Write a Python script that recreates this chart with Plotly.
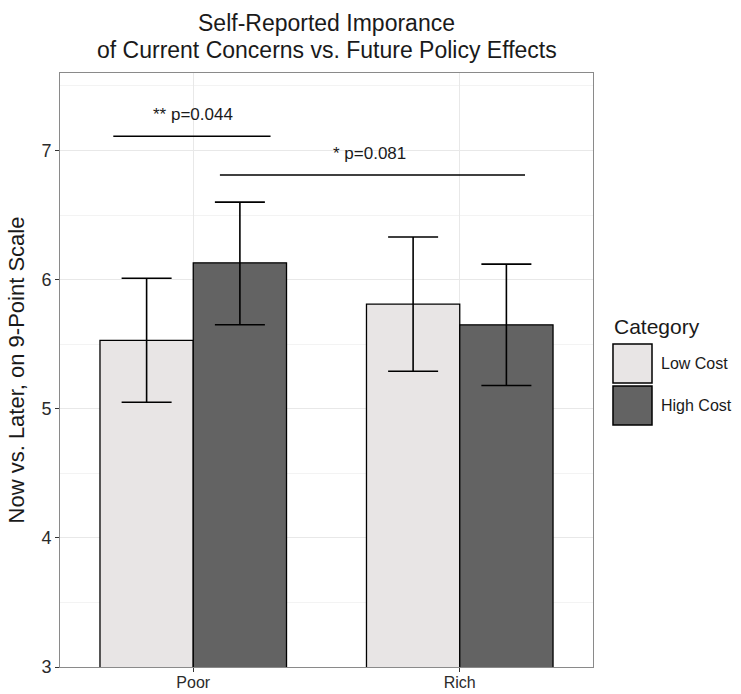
import plotly.graph_objects as go

# ---- data ----
categories = ["Poor", "Rich"]
series_names = ["Low Cost", "High Cost"]
low_cost_mean = [5.53, 5.81]
low_cost_upper = [6.01, 6.33]
low_cost_lower = [5.05, 5.29]
high_cost_mean = [6.13, 5.65]
high_cost_upper = [6.60, 6.12]
high_cost_lower = [5.65, 5.18]

sig_labels = ["** p=0.044", "* p=0.081"]
sig_x0 = [-0.30, 0.10]
sig_x1 = [0.29, 1.245]
sig_line_y = [7.11, 6.81]
sig_label_x = [0.0, 0.66]
sig_label_y = [7.28, 6.98]

y_ticks = [3, 4, 5, 6, 7]
y_range = [3, 7.6]

title_lines = ["Self-Reported Imporance", "of Current Concerns vs. Future Policy Effects"]
y_title = "Now vs. Later, on 9-Point Scale"
legend_title = "Category"

colors = ["#e8e5e5", "#636363"]
FONT = "Liberation Sans, Arial, sans-serif"

fig = go.Figure()
means = [low_cost_mean, high_cost_mean]
uppers = [low_cost_upper, high_cost_upper]
lowers = [low_cost_lower, high_cost_lower]
for name, m, u, l, c in zip(series_names, means, uppers, lowers, colors):
    fig.add_trace(go.Bar(
        x=categories, y=m, name=name,
        marker=dict(color=c, line=dict(color="black", width=1.3)),
        error_y=dict(type="data", symmetric=False,
                     array=[a - b for a, b in zip(u, m)],
                     arrayminus=[b - a for a, b in zip(l, m)],
                     color="black", thickness=1.6, width=25),
        showlegend=False,
    ))

shapes = []
annotations = []
for lab, x0, x1, ly, tx, ty in zip(sig_labels, sig_x0, sig_x1, sig_line_y, sig_label_x, sig_label_y):
    shapes.append(dict(type="line", xref="x", yref="y", x0=x0, x1=x1, y0=ly, y1=ly,
                       line=dict(color="black", width=1.6)))
    annotations.append(dict(x=tx, y=ty, xref="x", yref="y", text=lab, showarrow=False,
                            font=dict(family=FONT, size=17, color="#1a1a1a"),
                            xanchor="center", yanchor="middle"))

# title lines (paper coords above plot)
for txt, ty in zip(title_lines, [1.0842, 1.0387]):
    annotations.append(dict(x=0.5, y=ty, xref="paper", yref="paper", text=txt, showarrow=False,
                            xanchor="center", yanchor="middle",
                            font=dict(family=FONT, size=23, color="#1a1a1a")))

# custom legend (paper coords)
key_x0, key_x1 = 1.0375, 1.1107
key_tops = [0.5438, 0.4731]
key_h = 0.0657
for name, c, top in zip(series_names, colors, key_tops):
    shapes.append(dict(type="rect", xref="paper", yref="paper", x0=key_x0, x1=key_x1,
                       y0=top - key_h, y1=top, fillcolor=c,
                       line=dict(color="black", width=1.5)))
    annotations.append(dict(x=1.1238, y=top - key_h / 2, xref="paper", yref="paper", text=name,
                            showarrow=False, xanchor="left", yanchor="middle",
                            font=dict(family=FONT, size=16, color="#1a1a1a")))
annotations.append(dict(x=key_x0 - 0.002, y=0.5724, xref="paper", yref="paper", text=legend_title,
                        showarrow=False, xanchor="left", yanchor="middle",
                        font=dict(family=FONT, size=21, color="#1a1a1a")))

fig.update_layout(
    width=741, height=694,
    margin=dict(l=60, r=148, t=73, b=27),
    paper_bgcolor="white", plot_bgcolor="white",
    barmode="group", bargap=0.3, bargroupgap=0,
    shapes=shapes, annotations=annotations,
    font=dict(family=FONT),
)
fig.update_xaxes(
    type="category", range=[-0.5, 1.5], automargin=False,
    showgrid=True, gridcolor="#e8e8e8", gridwidth=1,
    showline=True, mirror=True, linecolor="#8a8a8a", linewidth=1,
    ticks="outside", ticklen=4, tickcolor="#333333",
    ticklabelstandoff=-3,
    tickfont=dict(family=FONT, size=16, color="#2b2b2b"),
    zeroline=False,
)
fig.update_yaxes(
    range=y_range, tickvals=y_ticks, ticktext=[str(t) for t in y_ticks], automargin=False,
    showgrid=True, gridcolor="#e8e8e8", gridwidth=1,
    minor=dict(dtick=0.5, tick0=3, showgrid=True, gridcolor="#f3f3f3", gridwidth=0.6),
    showline=True, mirror=True, linecolor="#8a8a8a", linewidth=1,
    ticks="outside", ticklen=4, tickcolor="#333333",
    tickfont=dict(family=FONT, size=18, color="#2b2b2b"),
    title=dict(text=y_title, standoff=10, font=dict(family=FONT, size=22, color="#1a1a1a")),
    zeroline=False,
)
fig.write_html("out.html")
